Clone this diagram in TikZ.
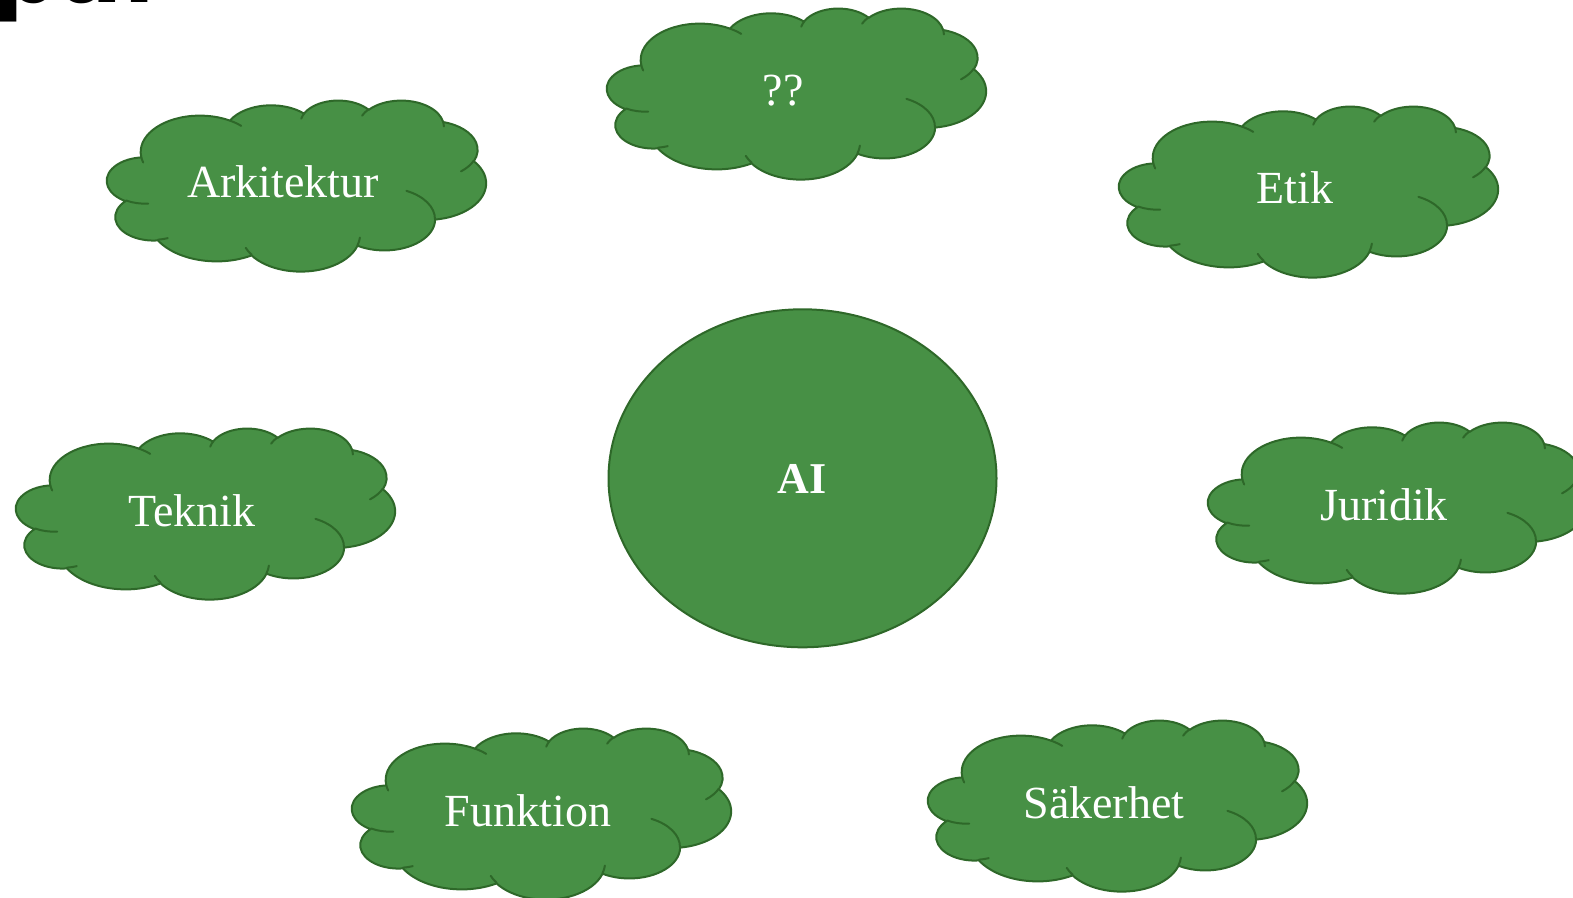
\documentclass[tikz,border=0pt]{standalone}
\usepackage{fontspec}
\usetikzlibrary{shapes.geometric}
\setmainfont{Liberation Serif}
\newfontfamily\headfont{DejaVu Sans}
\definecolor{cloudgreen}{RGB}{71,144,69}
\definecolor{cloudedge}{RGB}{46,104,41}

% Cloud outline: elliptical arcs given by start/sweep angles measured
% from the centre; converted here to parametric angles for TikZ arcs.
\newcommand\mkarc[5]{% id, rx, ry, start, sweep
  \pgfmathparse{atan2((#2)*sin(#4),(#3)*cos(#4))}\let\tmpa\pgfmathresult
  \pgfmathparse{atan2((#2)*sin((#4)+(#5)),(#3)*cos((#4)+(#5)))}\let\tmpb\pgfmathresult
  \pgfmathparse{\tmpb+360*and(#5>0,\tmpb<\tmpa)-360*and(#5<0,\tmpb>\tmpa)}\let\tmpb\pgfmathresult
  \expandafter\xdef\csname angS#1\endcsname{\tmpa}%
  \expandafter\xdef\csname angE#1\endcsname{\tmpb}%
}
% outer rim
\mkarc{A}{67.53}{91.90}{-190.4875}{123.7805}
\mkarc{B}{53.33}{72.67}{-144.1024}{89.9452}
\mkarc{C}{43.65}{59.45}{-145.8079}{99.7230}
\mkarc{D}{48.57}{65.95}{-130.9861}{117.2417}
\mkarc{E}{53.33}{72.73}{-78.7089}{109.0269}
\mkarc{F}{67.75}{92.20}{-46.2673}{130.2690}
\mkarc{G}{57.85}{78.67}{0.6250}{114.0333}
\mkarc{H}{67.52}{92.15}{22.4516}{115.1726}
\mkarc{I}{77.20}{105.43}{66.2426}{75.7110}
\mkarc{J}{43.60}{59.18}{-274.9421}{146.7356}
\mkarc{K}{43.45}{59.45}{-246.8285}{152.5189}
% inner creases
\mkarc{a}{43.45}{59.45}{86.7420}{26.4295}
\mkarc{b}{43.60}{59.18}{73.6105}{11.4475}
\mkarc{c}{67.52}{92.15}{137.6242}{14.0811}
\mkarc{d}{67.52}{92.15}{6.4533}{15.9984}
\mkarc{e}{57.85}{78.67}{-70.2924}{70.9174}
\mkarc{f}{53.33}{72.73}{30.3180}{27.7515}
\mkarc{g}{48.57}{65.95}{-13.7443}{14.8589}
\mkarc{h}{48.57}{65.95}{-149.1815}{18.1954}
\mkarc{i}{43.65}{59.45}{-163.4943}{17.6864}
\mkarc{j}{67.53}{91.90}{-66.7070}{12.3194}
\mkarc{k}{67.53}{91.90}{157.6544}{11.8582}

\tikzset{
  cloudbody/.style={fill=cloudgreen, draw=cloudedge, line width=1pt, line join=round},
  cloudline/.style={draw=cloudedge, line width=1pt, line cap=round},
  cloudtext/.style={anchor=base, text=white, inner sep=0pt, font=\fontsize{23}{28}\selectfont},
  hub/.style={ellipse, fill=cloudgreen, draw=cloudedge, line width=1pt, inner sep=0pt,
    minimum width=194pt, minimum height=169pt},
}

% #1 node name, #2 left, #3 top, #4 label
\newcommand\cloudnode[4]{%
  \begin{scope}[shift={(#2,#3)}, x=0.43866pt, y=-0.19792pt]
    \path[cloudbody] (39.00,143.70)
      arc[start angle=\angSA, end angle=\angEA, x radius=67.53, y radius=91.90]
      arc[start angle=\angSB, end angle=\angEB, x radius=53.33, y radius=72.67]
      arc[start angle=\angSC, end angle=\angEC, x radius=43.65, y radius=59.45]
      arc[start angle=\angSD, end angle=\angED, x radius=48.57, y radius=65.95]
      arc[start angle=\angSE, end angle=\angEE, x radius=53.33, y radius=72.73]
      arc[start angle=\angSF, end angle=\angEF, x radius=67.75, y radius=92.20]
      arc[start angle=\angSG, end angle=\angEG, x radius=57.85, y radius=78.67]
      arc[start angle=\angSH, end angle=\angEH, x radius=67.52, y radius=92.15]
      arc[start angle=\angSI, end angle=\angEI, x radius=77.20, y radius=105.43]
      arc[start angle=\angSJ, end angle=\angEJ, x radius=43.60, y radius=59.18]
      arc[start angle=\angSK, end angle=\angEK, x radius=43.45, y radius=59.45]
      -- cycle;
    \path[cloudline]
      (46.93,261.77) arc[start angle=\angSa, end angle=\angEa, x radius=43.45, y radius=59.45]
      (69.28,348.99) arc[start angle=\angSb, end angle=\angEb, x radius=43.60, y radius=59.18]
      (164.78,390.90) arc[start angle=\angSc, end angle=\angEc, x radius=67.52, y radius=92.15]
      (288.27,347.51) arc[start angle=\angSd, end angle=\angEd, x radius=67.52, y radius=92.15]
      (341.29,229.54) arc[start angle=\angSe, end angle=\angEe, x radius=57.85, y radius=78.67]
      (417.98,153.54) arc[start angle=\angSf, end angle=\angEf, x radius=53.33, y radius=72.73]
      (383.24,54.26) arc[start angle=\angSg, end angle=\angEg, x radius=48.57, y radius=65.95]
      (290.78,39.52) arc[start angle=\angSh, end angle=\angEh, x radius=48.57, y radius=65.95]
      (221.41,47.20) arc[start angle=\angSi, end angle=\angEi, x radius=43.65, y radius=59.45]
      (140.00,51.92) arc[start angle=\angSj, end angle=\angEj, x radius=67.53, y radius=91.90]
      (41.27,157.89) arc[start angle=\angSk, end angle=\angEk, x radius=67.53, y radius=91.90];
  \end{scope}
  \node[cloudtext] (#1) at (#2+176,#3+98) {#4};
}

\begin{document}
\begin{tikzpicture}[x=0.5pt, y=-0.5pt]
  \useasboundingbox (0,0) rectangle (1573,898);
  \clip (0,0) rectangle (1573,898);

  % heading running off the top edge
  \node[anchor=base west, inner sep=0pt, text=black,
        font=\headfont\bfseries\fontsize{47}{52}\selectfont] (heading) at (-8,3) {par};

  % central topic
  \node[hub] (ai) at (802.5,478.3) {};
  \node[cloudtext, font=\bfseries\fontsize{22}{26}\selectfont] (ailabel) at (802,493) {AI};

  % surrounding themes
  \cloudnode{unknown}{607}{8}{??}
  \cloudnode{arkitektur}{107}{100}{Arkitektur}
  \cloudnode{etik}{1119}{106}{Etik}
  \cloudnode{teknik}{16}{428}{Teknik}
  \cloudnode{juridik}{1208}{422}{Juridik}
  \cloudnode{funktion}{352}{728}{Funktion}
  \cloudnode{sakerhet}{928}{720}{Säkerhet}
\end{tikzpicture}
\end{document}
